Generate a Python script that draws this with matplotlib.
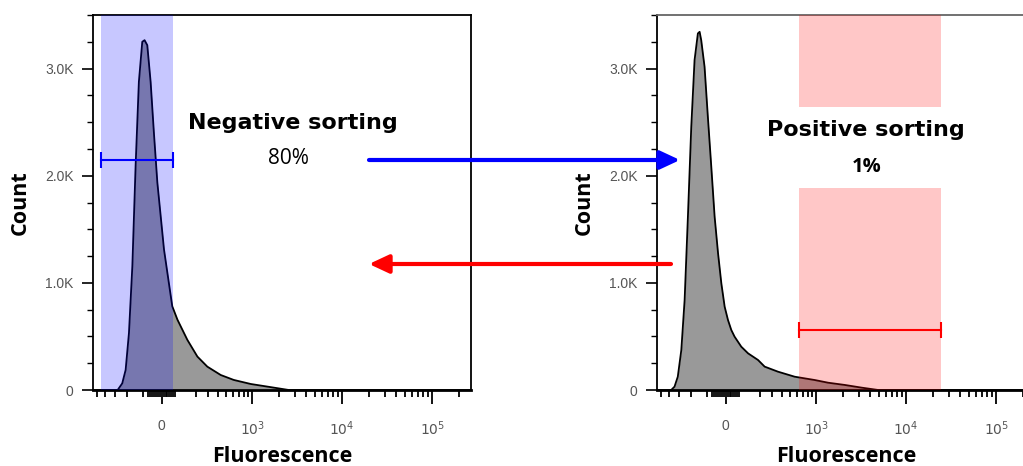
import numpy as np
import matplotlib
matplotlib.use("Agg")
import matplotlib.pyplot as plt
from matplotlib.patches import FancyArrowPatch

# histogram traces (fluorescence value, cell count)
neg_x = [-560, -300, -275, -237, -211, -187, -164, -143, -123, -103, -90, -75, -57, -40, -22,
         -5, 12, 37, 55, 83, 141, 209, 290, 430, 614, 964, 1498, 2566, 270000]
neg_count = [0, 0, 0, 62, 187, 533, 1156, 2093, 2875, 3250, 3265, 3218, 2875, 2406, 1937,
             1625, 1312, 1000, 781, 656, 468, 312, 218, 140, 94, 56, 31, 0, 0]

pos_x = [-560, -377, -342, -310, -278, -250, -224, -199, -176, -154, -143, -133, -113, -94, -75,
         -57, -39, -22, -5, 12, 29, 46, 82, 121, 185, 234, 354, 566, 964, 1362, 2094, 3214,
         4920, 270000]
pos_count = [0, 0, 31, 124, 373, 840, 1617, 2457, 3079, 3328, 3343, 3265, 3017, 2550, 2084,
             1617, 1275, 995, 777, 653, 560, 498, 404, 342, 280, 218, 171, 124, 93, 68, 47, 22,
             0, 0]

# gates
neg_gate = (-454, 59)
neg_gate_y = 2146
pos_gate = (631, 24440)
pos_gate_y = 560

x_ticks = [0, 1e3, 1e4, 1e5]
x_ticklabels = ["0", "$10^3$", "$10^4$", "$10^5$"]
y_ticks = [0, 1000, 2000, 3000]
y_ticklabels = ["0", "1.0K", "2.0K", "3.0K"]

C = 200.0
def fwd(x):
    return np.arcsinh(np.asarray(x, dtype=float) / C)
def inv(u):
    return C * np.sinh(u)

minor_x = ([-500, -400, -300, -200, -100] + list(range(-70, 80, 10)) +
           list(range(200, 1000, 100)) + list(range(2000, 10000, 1000)) +
           list(range(20000, 100000, 10000)) + [200000])

W, H = 1023, 466
fig = plt.figure(figsize=(W / 100, H / 100), dpi=100)

def px(x0, y0, x1, y1):
    return [x0 / W, 1 - y1 / H, (x1 - x0) / W, (y1 - y0) / H]

ax1 = fig.add_axes(px(93, 15, 471, 390))
ax2 = fig.add_axes(px(657, 15, 1035, 390))

lab_font = dict(family="Liberation Sans", size=10, color="#555555")

for ax, xs, ys in [(ax1, neg_x, neg_count), (ax2, pos_x, pos_count)]:
    ax.set_xscale("function", functions=(fwd, inv))
    ax.fill_between(xs, ys, 0, color="#999999", lw=0, zorder=1)
    ax.plot(xs, ys, color="black", lw=1.3, zorder=2)
    ax.set_xlim(-560, 270000)
    ax.set_ylim(0, 3500)
    ax.set_xticks(x_ticks)
    ax.set_xticklabels(x_ticklabels, **lab_font)
    ax.set_xticks(minor_x, minor=True)
    ax.set_yticks(y_ticks)
    ax.set_yticklabels(y_ticklabels, **lab_font)
    ax.set_yticks(np.arange(250, 3750, 250), minor=True)
    ax.tick_params(axis="x", which="major", length=10, width=1.3, pad=11)
    ax.tick_params(axis="x", which="minor", length=5, width=1.3)
    ax.tick_params(axis="y", which="major", length=8, width=1.2, pad=6)
    ax.tick_params(axis="y", which="minor", length=4, width=1.0)
    for s in ax.spines.values():
        s.set_linewidth(1.3)
    ax.spines["bottom"].set_linewidth(2)
    ax.set_xlabel("Fluorescence", family="Open Sans", fontweight="bold", fontsize=15.5, labelpad=6)
    ax.set_ylabel("Count", family="Open Sans", fontweight="bold", fontsize=15.5, labelpad=10)

ax2.spines["top"].set_color("#666666")

# gate overlays
ax1.axvspan(neg_gate[0], neg_gate[1], color="blue", alpha=0.22, lw=0, zorder=3)
ax1.plot(neg_gate, [neg_gate_y, neg_gate_y], color="blue", lw=1.5, zorder=4)
ax1.plot(neg_gate, [neg_gate_y, neg_gate_y], ls="none", marker="|", ms=11, mew=1.5,
         color="blue", zorder=4)

ax2.axvspan(pos_gate[0], pos_gate[1], ymin=0, ymax=0.539, color="red", alpha=0.22, lw=0, zorder=3)
ax2.axvspan(pos_gate[0], pos_gate[1], ymin=0.755, ymax=1, color="red", alpha=0.22, lw=0, zorder=3)
ax2.plot(pos_gate, [pos_gate_y, pos_gate_y], color="red", lw=1.5, zorder=4)
ax2.plot(pos_gate, [pos_gate_y, pos_gate_y], ls="none", marker="|", ms=12, mew=1.5,
         color="red", zorder=4)

# annotations
fig.text(293 / W, 1 - 123 / H, "Negative sorting", ha="center", va="center",
         family="DejaVu Sans", fontweight="bold", fontsize=16)
fig.text(288 / W, 1 - 158 / H, "80%", ha="center", va="center",
         family="Open Sans", fontsize=15)
fig.text(866 / W, 1 - 130 / H, "Positive sorting", ha="center", va="center",
         family="DejaVu Sans", fontweight="bold", fontsize=16)
fig.text(867 / W, 1 - 167 / H, "1%", ha="center", va="center",
         family="Open Sans", fontweight="bold", fontsize=14.5)

arrow_kw = dict(transform=fig.transFigure, arrowstyle="-|>,head_length=0.6,head_width=0.28",
                mutation_scale=20, lw=3, shrinkA=0, shrinkB=0)
fig.add_artist(FancyArrowPatch((369 / W, 1 - 160 / H), (680 / W, 1 - 160 / H),
                               color="blue", **arrow_kw))
fig.add_artist(FancyArrowPatch((671 / W, 1 - 264 / H), (369 / W, 1 - 264 / H),
                               color="red", **arrow_kw))

fig.savefig("out.png", dpi=100)
